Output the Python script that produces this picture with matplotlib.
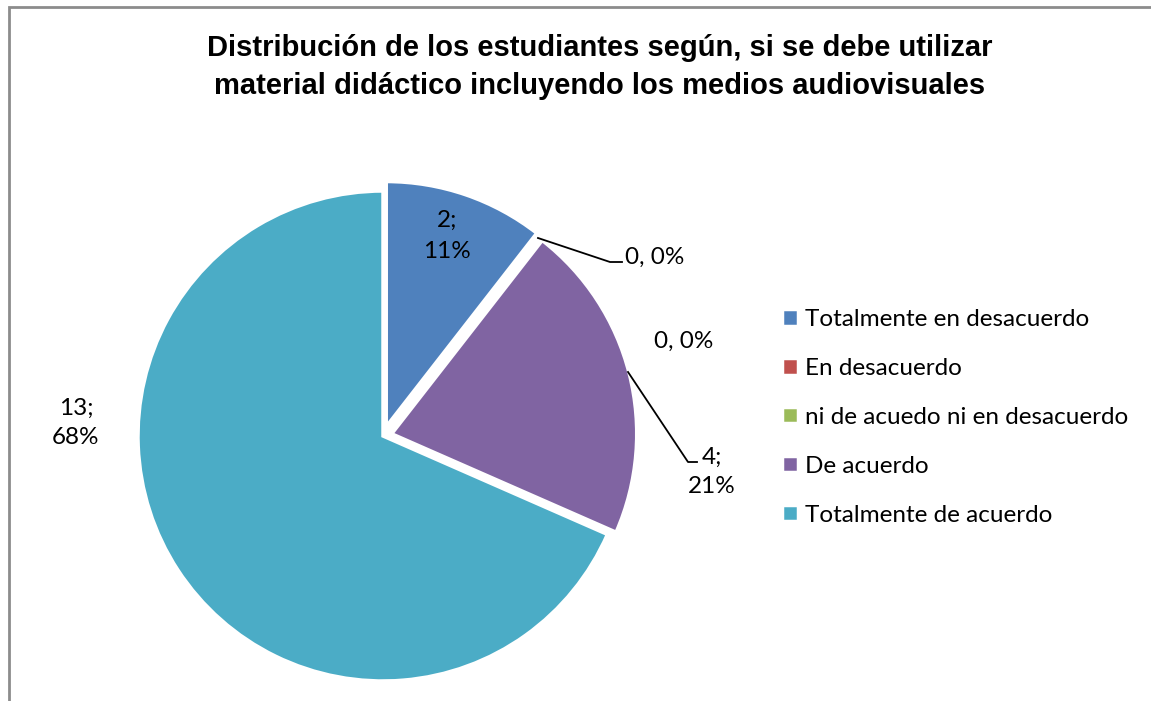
import matplotlib
matplotlib.use("Agg")
import matplotlib.pyplot as plt
from matplotlib.patches import Rectangle
import numpy as np

categories = ["Totalmente en desacuerdo", "En desacuerdo",
              "ni de acuedo ni en desacuerdo", "De acuerdo",
              "Totalmente de acuerdo"]
values = [2, 0, 0, 4, 13]
percents = ["11%", "0%", "0%", "21%", "68%"]
colors = ["#4F81BD", "#C0504D", "#9BBB59", "#8064A2", "#4BACC6"]
title = ("Distribución de los estudiantes según, si se debe utilizar\n"
         "material didáctico incluyendo los medios audiovisuales")

W, H = 1151, 701
fig = plt.figure(figsize=(W / 100, H / 100), dpi=100)
ax = fig.add_axes([0, 0, 1, 1])
ax.set_xlim(0, W)
ax.set_ylim(0, H)
ax.set_aspect("equal")
ax.axis("off")

cx, cy, R = 383, H - 436, 245
explode = [10, 0, 0, 9, 0]   # offsets in pixels (data units)
wedges, _ = ax.pie(values, colors=colors, startangle=90, counterclock=False,
                   center=(cx, cy), radius=R, explode=explode,
                   wedgeprops=dict(edgecolor="white", linewidth=2.5))
ax.set_xlim(0, W)
ax.set_ylim(0, H)

FS = 17.5
lab_font = dict(family="Lato", fontsize=FS, color="black")

# border (left and top visible)
fig.patches.append(Rectangle((8.5 / W, -0.1), 1.2, (H - 6.5) / H + 0.1,
                             transform=fig.transFigure, fill=False,
                             edgecolor="#8C8C8C", linewidth=2))

def px(x, y):
    return x, H - y

# data labels
ax.text(*px(447, 236), f"{values[0]};\n{percents[0]}", ha="center", va="center",
        linespacing=1.6, **lab_font)
ax.text(*px(625, 257), f"{values[1]}, {percents[1]}", ha="left", va="center", **lab_font)
ax.text(*px(654, 341), f"{values[2]}, {percents[2]}", ha="left", va="center", **lab_font)
ax.text(*px(712, 472), f"{values[3]};\n{percents[3]}", ha="center", va="center",
        linespacing=1.45, **lab_font)
ax.text(*px(76, 423), f"{values[4]};\n{percents[4]}", ha="center", va="center",
        linespacing=1.5, **lab_font)

# leader lines
ax.plot(*zip(px(538, 238), px(610, 262), px(622, 262)), color="black", lw=1.3)
ax.plot(*zip(px(628, 372), px(688, 462), px(697, 462)), color="black", lw=1.3)

fig.text(600 / W, 1 - 67 / H, title, ha="center", va="center",
         family="Liberation Sans", fontweight="bold", fontsize=21, linespacing=1.45)

leg = ax.legend(wedges, categories, loc="upper left",
                bbox_to_anchor=(782 / W, 1 - 309 / H), frameon=False,
                prop=dict(family="Lato", size=FS), handlelength=0.65,
                handleheight=0.65, handletextpad=0.3, labelspacing=1.15,
                borderpad=0, borderaxespad=0)

fig.savefig("out.png", dpi=100)
